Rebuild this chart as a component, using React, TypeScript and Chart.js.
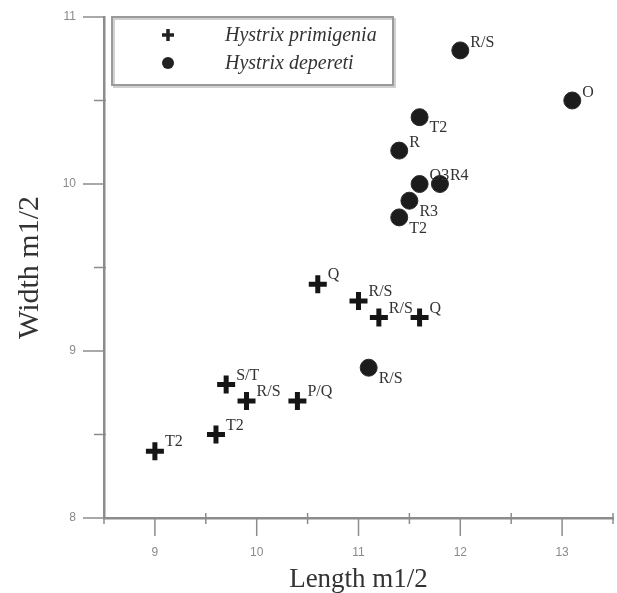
import React, { useEffect, useRef } from "react";
import { Chart, registerables } from "chart.js";

Chart.register(...registerables);

const primLength = [9.0, 9.6, 9.7, 9.9, 10.4, 10.6, 11.0, 11.2, 11.6];
const primWidth = [8.4, 8.5, 8.8, 8.7, 8.7, 9.4, 9.3, 9.2, 9.2];
const primLabels = ["T2", "T2", "S/T", "R/S", "P/Q", "Q", "R/S", "R/S", "Q"];

const depLength = [12.0, 13.1, 11.6, 11.4, 11.6, 11.8, 11.5, 11.4, 11.1];
const depWidth = [10.8, 10.5, 10.4, 10.2, 10.0, 10.0, 9.9, 9.8, 8.9];
const depLabels = ["R/S", "O", "T2", "R", "O3", "R4", "R3", "T2", "R/S"];
const depLabelBelow = [false, false, true, false, false, false, true, true, true];

const seriesNames = ["Hystrix primigenia", "Hystrix depereti"];
const xTitle = "Length m1/2";
const yTitle = "Width m1/2";

const AXIS = "#8c8c8c";
const SERIF = "'Liberation Serif', 'Times New Roman', serif";

const overlay = {
  id: "overlay",
  afterDraw(chart: any) {
    const ctx = chart.ctx;
    const xs = chart.scales.x;
    const ys = chart.scales.y;
    ctx.save();
    // ticks
    ctx.strokeStyle = AXIS;
    ctx.lineWidth = 1.5;
    xs.ticks.forEach((t: any) => {
      const px = xs.getPixelForValue(t.value);
      const major = Math.abs(t.value - Math.round(t.value)) < 1e-6;
      ctx.beginPath();
      if (major) {
        ctx.moveTo(px, xs.top);
        ctx.lineTo(px, xs.top + 18);
      } else {
        ctx.moveTo(px, xs.top - 5);
        ctx.lineTo(px, xs.top + 6);
      }
      ctx.stroke();
    });
    ys.ticks.forEach((t: any) => {
      const py = ys.getPixelForValue(t.value);
      const major = Math.abs(t.value - Math.round(t.value)) < 1e-6;
      ctx.beginPath();
      if (major) {
        ctx.moveTo(ys.right - 21, py);
        ctx.lineTo(ys.right, py);
      } else {
        ctx.moveTo(ys.right - 10, py);
        ctx.lineTo(ys.right + 2, py);
      }
      ctx.stroke();
    });

    // point labels
    ctx.fillStyle = "#333";
    ctx.font = `16px ${SERIF}`;
    ctx.textAlign = "left";
    ctx.textBaseline = "middle";
    const m0 = chart.getDatasetMeta(0);
    m0.data.forEach((el: any, i: number) => {
      ctx.fillText(primLabels[i], el.x + 10, el.y - 9);
    });
    const m1 = chart.getDatasetMeta(1);
    m1.data.forEach((el: any, i: number) => {
      if (depLabelBelow[i]) ctx.fillText(depLabels[i], el.x + 10, el.y + 11);
      else ctx.fillText(depLabels[i], el.x + 10, el.y - 8);
    });

    // legend
    const bx = 112, by = 17, bw = 281, bh = 68;
    ctx.fillStyle = "#fff";
    ctx.fillRect(bx, by, bw, bh);
    ctx.strokeStyle = "#d0d0d0";
    ctx.lineWidth = 2;
    ctx.strokeRect(bx + 2, by + 2, bw, bh);
    ctx.strokeStyle = "#9a9a9a";
    ctx.lineWidth = 2;
    ctx.strokeRect(bx, by, bw, bh);
    const mx = 168;
    const rows = [35, 63];
    ctx.strokeStyle = "#222";
    ctx.lineWidth = 3.5;
    ctx.beginPath();
    ctx.moveTo(mx - 6, rows[0]);
    ctx.lineTo(mx + 6, rows[0]);
    ctx.moveTo(mx, rows[0] - 6);
    ctx.lineTo(mx, rows[0] + 6);
    ctx.stroke();
    ctx.fillStyle = "#222";
    ctx.beginPath();
    ctx.arc(mx, rows[1], 6, 0, Math.PI * 2);
    ctx.fill();
    ctx.fillStyle = "#333";
    ctx.font = `italic 20px ${SERIF}`;
    ctx.fillText(seriesNames[0], 225, rows[0] + 1);
    ctx.fillText(seriesNames[1], 225, rows[1] + 1);
    ctx.restore();
  },
};

export default function App() {
  const ref = useRef<HTMLCanvasElement | null>(null);
  useEffect(() => {
    if (!ref.current) return;
    const chart = new Chart(ref.current, {
      type: "scatter",
      data: {
        datasets: [
          {
            label: seriesNames[0],
            data: primLength.map((x, i) => ({ x, y: primWidth[i] })),
            pointStyle: "cross",
            pointRadius: 9,
            pointBorderWidth: 5,
            borderColor: "#151515",
            backgroundColor: "#151515",
            pointHoverRadius: 9,
          },
          {
            label: seriesNames[1],
            data: depLength.map((x, i) => ({ x, y: depWidth[i] })),
            pointStyle: "circle",
            pointRadius: 8.5,
            pointBorderWidth: 1,
            borderColor: "#2a2a2a",
            backgroundColor: "#1c1c1c",
            pointHoverRadius: 8.5,
          },
        ],
      },
      options: {
        responsive: false,
        animation: false,
        devicePixelRatio: 1,
        layout: { autoPadding: false, padding: { left: 0, top: 17, right: 4, bottom: 0 } },
        plugins: { legend: { display: false }, tooltip: { enabled: false } },
        scales: {
          x: {
            type: "linear",
            min: 8.5,
            max: 13.5,
            afterFit: (s: any) => {
              s.height = 75;
              s.paddingLeft = 0;
              s.paddingRight = 0;
            },
            border: { display: true, color: AXIS, width: 2.5 },
            grid: { drawOnChartArea: false, drawTicks: true, tickLength: 18, tickColor: "rgba(0,0,0,0)" },
            ticks: {
              stepSize: 0.5,
              autoSkip: false,
              maxRotation: 0,
              padding: 9,
              color: "#8a8a8a",
              font: { family: "'Liberation Sans', sans-serif", size: 12 },
              callback: (v: any) => (Math.abs(v - Math.round(v)) < 1e-6 ? String(Math.round(v)) : ""),
            },
            title: {
              display: true,
              text: xTitle,
              color: "#333",
              font: { family: SERIF, size: 27, lineHeight: 1 },
              padding: { top: 0, bottom: 0 },
            },
          },
          y: {
            type: "linear",
            min: 8,
            max: 11,
            afterFit: (s: any) => {
              s.width = 104;
              s.paddingTop = 0;
              s.paddingBottom = 0;
            },
            border: { display: true, color: AXIS, width: 2.5 },
            grid: { drawOnChartArea: false, drawTicks: true, tickLength: 20, tickColor: "rgba(0,0,0,0)" },
            ticks: {
              stepSize: 0.5,
              autoSkip: false,
              padding: 8,
              color: "#8a8a8a",
              font: { family: "'Liberation Sans', sans-serif", size: 12 },
              callback: (v: any) => (Math.abs(v - Math.round(v)) < 1e-6 ? String(Math.round(v)) : ""),
            },
            title: {
              display: true,
              text: yTitle,
              color: "#333",
              font: { family: SERIF, size: 30, lineHeight: 1 },
              padding: { top: 15, bottom: 0 },
            },
          },
        },
      },
      plugins: [overlay],
    });
    return () => chart.destroy();
  }, []);
  return (
    <div style={{ position: "fixed", left: 0, top: 0, width: 617, height: 593, background: "#fff" }}>
      <canvas ref={ref} width={617} height={593} style={{ display: "block" }} />
    </div>
  );
}
